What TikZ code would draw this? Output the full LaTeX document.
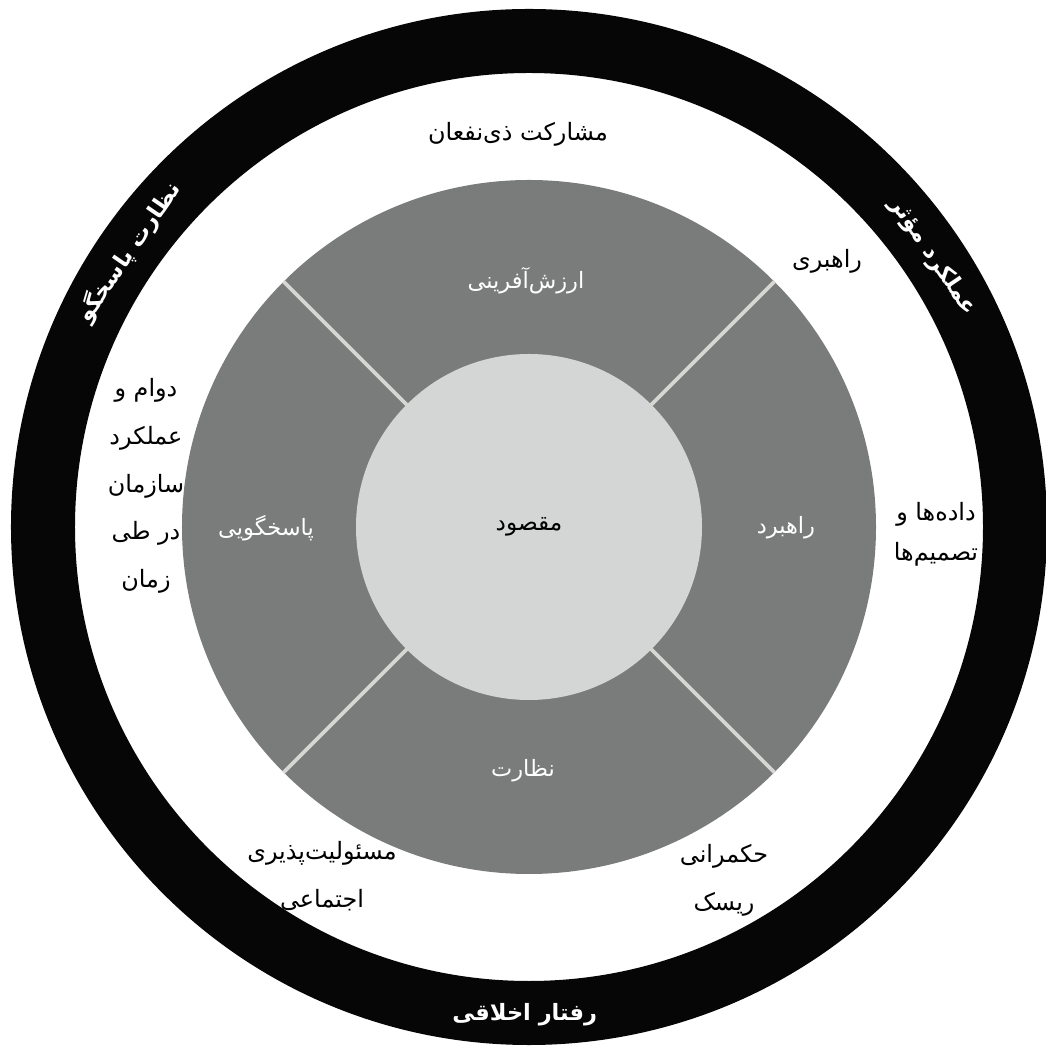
\documentclass[tikz,border=0pt]{standalone}
\usepackage{fontspec}
\newfontfamily\farsi[Script=Arabic]{DejaVu Sans}
\TeXXeTstate=1
\usepackage{tikz}
\usetikzlibrary{positioning}
\definecolor{ringblack}{RGB}{6,6,6}
\definecolor{wheelgray}{RGB}{122,124,123}
\definecolor{hublight}{RGB}{212,214,213}
\definecolor{splitline}{RGB}{214,214,210}
\newcommand{\fa}[1]{\beginR #1\endR}

\begin{document}
\begin{tikzpicture}[
    ringlabel/.style={text=white,inner sep=0pt,font=\farsi\bfseries\fontsize{6.4}{8}\selectfont},
    outerlabel/.style={text=black,align=center,inner sep=0pt,font=\farsi\fontsize{6.8}{13.6}\selectfont},
    segmentlabel/.style={text=white,inner sep=0pt,font=\farsi\fontsize{6.4}{8}\selectfont}]
  \useasboundingbox (-5.29,-5.19) rectangle (5.17,5.27);
  % Outer black ring
  \fill[ringblack,even odd rule] (0,0) circle (5.18) (0,0) circle (4.54);
  % Gray wheel and its four dividers
  \fill[wheelgray] (0,0) circle (3.47);
  \foreach \a in {45,135,225,315}
    \draw[splitline,line width=1.1pt] (\a:1.7) -- (\a:3.47);
  % Hub
  \node[circle,fill=hublight,minimum size=3.46cm,inner sep=0pt,
        font=\farsi\fontsize{6.6}{8}\selectfont] (hub) at (0,0) {\fa{مقصود}};
  % Segment names
  \node[segmentlabel] (valuecreation) at (-0.03,2.46) {\fa{ارزش^^^^200cآفرینی}};
  \node[segmentlabel] (strategy) at (2.57,-0.01) {\fa{راهبرد}};
  \node[segmentlabel] (oversight) at (-0.06,-2.44) {\fa{نظارت}};
  \node[segmentlabel] (accountability) at (-2.63,-0.01) {\fa{پاسخگویی}};
  % Labels in the white band
  \node[outerlabel] (stakeholders) at (-0.11,3.93) {\fa{مشارکت ذی^^^^200cنفعان}};
  \node[outerlabel] (leadership) at (2.98,2.66) {\fa{راهبری}};
  \node[outerlabel] (longevity) at (-3.83,0.41)
    {\fa{دوام و}\\\fa{عملکرد}\\\fa{سازمان}\\\fa{در طی}\\\fa{زمان}};
  \node[outerlabel,font=\farsi\fontsize{6.8}{11.4}\selectfont] (datadecisions) at (4.07,-0.07)
    {\fa{داده^^^^200cها و}\\\fa{تصمیم^^^^200cها}};
  \node[outerlabel] (responsibility) at (-2.07,-3.49)
    {\fa{مسئولیت^^^^200cپذیری}\\\fa{اجتماعی}};
  \node[outerlabel] (riskgov) at (1.95,-3.53) {\fa{حکمرانی}\\\fa{ریسک}};
  % Labels on the black ring
  \node[ringlabel,rotate=55.5] (responsivelabel) at (145.5:4.86) {\fa{نظارت پاسخگو}};
  \node[ringlabel,rotate=-56] (effectivelabel) at (33.8:4.86) {\fa{عملکرد مؤثر}};
  \node[ringlabel] (ethicslabel) at (269.5:4.88) {\fa{رفتار اخلاقی}};
\end{tikzpicture}
\end{document}
